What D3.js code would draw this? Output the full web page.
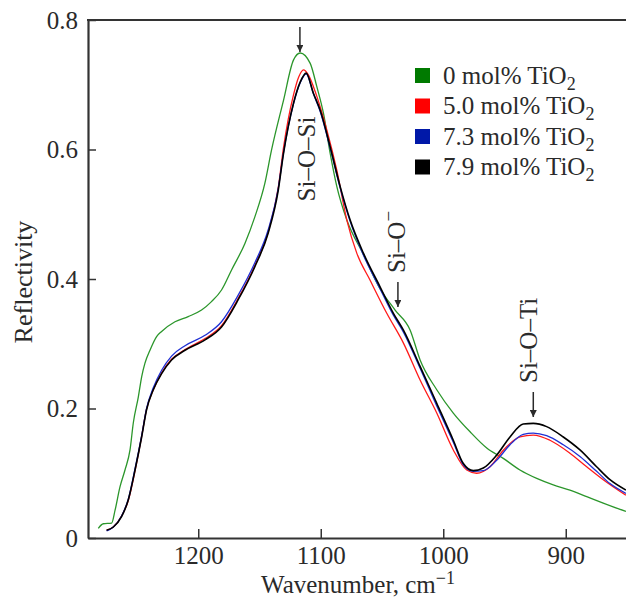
<!DOCTYPE html>
<html>
<head>
<meta charset="utf-8">
<script src="https://cdn.jsdelivr.net/npm/d3@7"></script>
<style>
  body { margin: 0; background: #fff; }
  text { font-family: "Liberation Serif", "Times New Roman", serif; fill: #2a2a2a; }
</style>
</head>
<body>
<div id="chart"></div>
<script>
// reflectivity spectra
const wnTi0 = [1281.6, 1277.5, 1270.7, 1267.9, 1263.9, 1259.8, 1255.7, 1253.0, 1248.9, 1246.2, 1243.5, 1239.4, 1234.0, 1229.9, 1219.0, 1208.2, 1197.3, 1189.2, 1181.0, 1172.8, 1161.9, 1153.8, 1145.6, 1140.2, 1130.4, 1122.3, 1116.8, 1108.6, 1103.2, 1097.8, 1092.3, 1086.9, 1078.7, 1065.2, 1051.6, 1039.3, 1027.0, 1018.9, 1005.3, 991.8, 978.1, 964.5, 951.0, 937.4, 923.7, 910.2, 896.6, 882.9, 869.4, 850.9];
const rTi0 = [0.015, 0.022, 0.023, 0.043, 0.079, 0.105, 0.136, 0.178, 0.218, 0.249, 0.270, 0.290, 0.311, 0.319, 0.334, 0.342, 0.352, 0.365, 0.383, 0.414, 0.455, 0.496, 0.548, 0.599, 0.676, 0.738, 0.749, 0.733, 0.697, 0.656, 0.594, 0.543, 0.491, 0.438, 0.385, 0.352, 0.321, 0.275, 0.229, 0.193, 0.164, 0.139, 0.123, 0.105, 0.092, 0.082, 0.074, 0.064, 0.054, 0.041];

const wnTi50 = [1274.8, 1269.3, 1262.6, 1257.1, 1251.6, 1246.2, 1242.2, 1236.7, 1229.9, 1221.8, 1210.8, 1194.5, 1181.0, 1167.4, 1153.8, 1142.9, 1134.7, 1130.4, 1122.3, 1118.0, 1114.1, 1110.0, 1103.2, 1095.0, 1086.9, 1078.7, 1070.6, 1059.7, 1046.1, 1032.5, 1018.9, 1005.3, 991.8, 980.8, 972.7, 961.8, 950.8, 937.4, 926.5, 912.9, 896.6, 882.9, 869.4, 850.9];
const rTi50 = [0.012, 0.017, 0.034, 0.058, 0.104, 0.157, 0.199, 0.229, 0.255, 0.276, 0.291, 0.308, 0.328, 0.370, 0.421, 0.473, 0.541, 0.603, 0.684, 0.712, 0.723, 0.715, 0.682, 0.630, 0.568, 0.491, 0.440, 0.398, 0.347, 0.301, 0.244, 0.193, 0.136, 0.105, 0.100, 0.110, 0.136, 0.156, 0.159, 0.151, 0.131, 0.110, 0.090, 0.066];

const wnTi73 = [1274.8, 1269.3, 1262.6, 1257.1, 1251.6, 1246.2, 1242.2, 1236.7, 1229.9, 1221.8, 1210.8, 1194.5, 1181.0, 1167.4, 1153.8, 1142.9, 1134.7, 1130.4, 1122.3, 1116.8, 1111.9, 1106.0, 1100.5, 1092.3, 1084.2, 1076.0, 1065.2, 1051.6, 1040.7, 1032.5, 1018.9, 1005.3, 991.8, 983.6, 975.5, 967.3, 956.4, 945.5, 934.7, 926.5, 915.6, 902.0, 888.4, 874.8, 863.9, 850.9];
const rTi73 = [0.011, 0.017, 0.034, 0.060, 0.107, 0.158, 0.200, 0.232, 0.259, 0.281, 0.297, 0.313, 0.334, 0.375, 0.425, 0.476, 0.540, 0.595, 0.670, 0.703, 0.717, 0.686, 0.659, 0.602, 0.541, 0.489, 0.437, 0.385, 0.344, 0.318, 0.262, 0.204, 0.148, 0.113, 0.103, 0.104, 0.120, 0.144, 0.160, 0.162, 0.158, 0.144, 0.126, 0.103, 0.084, 0.069];

const wnTi79 = [1274.8, 1269.3, 1262.6, 1257.1, 1251.6, 1246.2, 1242.2, 1236.7, 1229.9, 1221.8, 1210.8, 1194.5, 1181.0, 1167.4, 1153.8, 1142.9, 1134.7, 1130.4, 1122.3, 1116.8, 1111.9, 1106.0, 1100.5, 1092.3, 1084.2, 1076.0, 1065.2, 1051.6, 1040.7, 1032.5, 1018.9, 1005.3, 991.8, 983.6, 975.5, 967.3, 956.4, 945.5, 934.7, 926.5, 915.6, 902.0, 888.4, 874.8, 863.9, 850.9];
const rTi79 = [0.012, 0.017, 0.033, 0.059, 0.105, 0.156, 0.198, 0.229, 0.254, 0.275, 0.290, 0.306, 0.326, 0.368, 0.419, 0.471, 0.537, 0.594, 0.671, 0.704, 0.718, 0.687, 0.661, 0.604, 0.543, 0.491, 0.440, 0.388, 0.347, 0.321, 0.265, 0.208, 0.151, 0.115, 0.104, 0.108, 0.128, 0.156, 0.176, 0.177, 0.172, 0.156, 0.136, 0.110, 0.090, 0.074];

const seriesNames = ['0 mol% TiO', '5.0 mol% TiO', '7.3 mol% TiO', '7.9 mol% TiO'];
const lineColors = ['#2b962b', '#ff1a1a', '#1f2fd4', '#000000'];
const keyColors = ['#007a00', '#ff0000', '#0018a8', '#000000'];
const yTicks = [0, 0.2, 0.4, 0.6, 0.8];
const xTicks = [1200, 1100, 1000, 900];

const width = 626, height = 604;
const margin = {left: 88, right: 627, top: 20, bottom: 538};

const x = d3.scaleLinear().domain([1290, 850]).range([margin.left, margin.right]);
const y = d3.scaleLinear().domain([0, 0.8]).range([margin.bottom, margin.top]);

const svg = d3.select('#chart')
  .append('svg')
  .attr('width', width)
  .attr('height', height);

svg.append('clipPath')
    .attr('id', 'plot')
  .append('rect')
    .attr('x', margin.left)
    .attr('y', margin.top)
    .attr('width', width - margin.left)
    .attr('height', margin.bottom - margin.top);

const series = [
  {wn: wnTi0, r: rTi0},
  {wn: wnTi50, r: rTi50},
  {wn: wnTi73, r: rTi73},
  {wn: wnTi79, r: rTi79}
];

const line = d3.line()
  .x(d => x(d[0]))
  .y(d => y(d[1]))
  .curve(d3.curveMonotoneX);

svg.append('g')
    .attr('clip-path', 'url(#plot)')
  .selectAll('path')
  .data(series)
  .enter().append('path')
    .attr('d', s => line(d3.zip(s.wn, s.r)))
    .attr('fill', 'none')
    .attr('stroke', (s, i) => lineColors[i])
    .attr('stroke-width', (s, i) => i === 3 ? 1.6 : 1.3)
    .attr('stroke-linejoin', 'round');

// axes, ticks pointing inward
const yAxis = d3.axisLeft(y)
  .tickValues(yTicks)
  .tickFormat(d => d === 0 ? '0' : d3.format('.1f')(d))
  .tickSizeInner(-8)
  .tickSizeOuter(0)
  .tickPadding(10);

const xAxis = d3.axisBottom(x)
  .tickValues(xTicks)
  .tickFormat(d3.format('d'))
  .tickSizeInner(-9)
  .tickSizeOuter(0)
  .tickPadding(8);

svg.append('g')
    .attr('class', 'y axis')
    .attr('transform', `translate(${margin.left},0)`)
    .call(yAxis);

svg.append('g')
    .attr('class', 'x axis')
    .attr('transform', `translate(0,${margin.bottom})`)
    .call(xAxis);

svg.selectAll('.axis path').attr('stroke', '#333').attr('stroke-width', 2.2);
svg.selectAll('.axis line').attr('stroke', '#333').attr('stroke-width', 1.5);
svg.selectAll('.axis text')
  .attr('fill', '#2a2a2a')
  .style('font-family', '"Liberation Serif", serif')
  .style('font-size', '25px');

svg.append('line')
  .attr('x1', margin.left - 1).attr('x2', width)
  .attr('y1', margin.top).attr('y2', margin.top)
  .attr('stroke', '#333').attr('stroke-width', 2.2);

// axis titles
const xt = svg.append('text')
  .attr('x', 358).attr('y', 593)
  .attr('text-anchor', 'middle')
  .style('font-size', '25px');
xt.append('tspan').text('Wavenumber, cm');
xt.append('tspan').attr('dy', -9).style('font-size', '18px').text('−1');

svg.append('text')
  .attr('transform', 'translate(32,282) rotate(-90)')
  .attr('text-anchor', 'middle')
  .style('font-size', '26px')
  .text('Reflectivity');

// legend
const key = svg.append('g').attr('transform', 'translate(415,68)');
seriesNames.forEach((name, i) => {
  const row = key.append('g').attr('transform', `translate(0,${i * 30.5})`);
  row.append('rect')
    .attr('width', 15).attr('height', 15)
    .attr('fill', keyColors[i]);
  const t = row.append('text')
    .attr('x', 28).attr('y', 15.5)
    .style('font-size', '25px');
  t.append('tspan').text(name);
  t.append('tspan').attr('dy', 6).style('font-size', '18px').text('2');
});

// band annotations
svg.append('defs').append('marker')
    .attr('id', 'head')
    .attr('viewBox', '0 0 10 10')
    .attr('refX', 10).attr('refY', 5)
    .attr('markerWidth', 7).attr('markerHeight', 7)
    .attr('markerUnits', 'userSpaceOnUse')
    .attr('orient', 'auto')
  .append('path')
    .attr('d', 'M0,0L10,5L0,10Z')
    .attr('fill', '#2a2a2a');

const arrows = [
  {wn: 1117, y0: 27, y1: 52},
  {wn: 1037, y0: 282, y1: 307},
  {wn: 926.5, y0: 392, y1: 417}
];
svg.selectAll('.arrow')
  .data(arrows)
  .enter().append('line')
    .attr('class', 'arrow')
    .attr('x1', d => x(d.wn)).attr('x2', d => x(d.wn))
    .attr('y1', d => d.y0).attr('y2', d => d.y1)
    .attr('stroke', '#2a2a2a')
    .attr('stroke-width', 1.5)
    .attr('marker-end', 'url(#head)');

svg.append('text')
  .attr('transform', 'translate(315,159) rotate(-90)')
  .attr('text-anchor', 'middle')
  .style('font-size', '25px')
  .text('Si–O–Si');

const so = svg.append('text')
  .attr('transform', 'translate(405,273) rotate(-90)')
  .style('font-size', '25px');
so.append('tspan').text('Si–O');
so.append('tspan').attr('dy', -10).style('font-size', '19px').text('−');

svg.append('text')
  .attr('transform', 'translate(537,383) rotate(-90)')
  .style('font-size', '25px')
  .text('Si–O–Ti');
</script>
</body>
</html>
